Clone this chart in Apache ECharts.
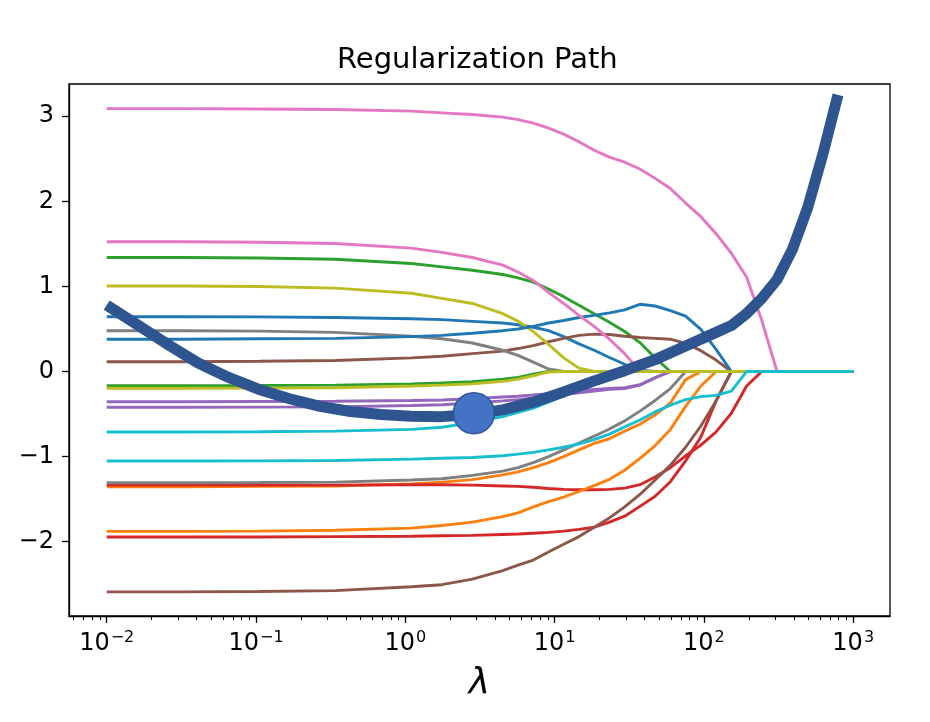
<!DOCTYPE html>
<html lang="en">

<head>
    <meta charset="UTF-8">
    <title>Regularization Path</title>
    <style>
        * {
            margin: 0;
            padding: 0;
            box-sizing: border-box;
        }

        html,
        body {
            background: #fff;
        }

        #box {
            width: 930px;
            height: 722px;
        }
    </style>
    <script src="https://cdn.jsdelivr.net/npm/echarts@6.0.0/dist/echarts.min.js"></script>
</head>

<body>
    <div id="box"></div>

    <script>
        // lambda grid shared by all coefficient paths
        var lambdas = [0.01, 0.03237, 0.1048, 0.3393, 1.099, 1.758, 2.812, 4.498, 5.690, 7.197, 9.103,
            11.51, 14.56, 18.42, 23.30, 29.47, 37.28, 47.15, 59.64, 75.44, 95.41,
            120.7, 152.7, 193.1, 244.2, 308.9, 390.7, 494.2, 625.1, 790.6, 1000];

        // coefficient paths, two features per colour
        var blueA = [0.644, 0.644, 0.642, 0.635, 0.62, 0.61, 0.59, 0.57, 0.55, 0.52, 0.48, 0.41, 0.325, 0.25, 0.165, 0.085, 0.015, 0, 0, 0, 0, 0, 0, 0, 0, 0, 0, 0, 0, 0, 0];
        var orangeA = [-1.355, -1.355, -1.35, -1.345, -1.32, -1.30, -1.27, -1.215, -1.18, -1.13, -1.07, -1.0, -0.92, -0.845, -0.79, -0.70, -0.62, -0.51, -0.37, -0.095, 0, 0, 0, 0, 0, 0, 0, 0, 0, 0, 0];
        var greenA = [1.34, 1.34, 1.335, 1.32, 1.27, 1.23, 1.19, 1.14, 1.10, 1.05, 0.97, 0.88, 0.78, 0.68, 0.58, 0.47, 0.34, 0.16, 0, 0, 0, 0, 0, 0, 0, 0, 0, 0, 0, 0, 0];
        var redA = [-1.335, -1.335, -1.335, -1.335, -1.33, -1.33, -1.335, -1.345, -1.35, -1.36, -1.375, -1.385, -1.39, -1.39, -1.385, -1.37, -1.33, -1.24, -1.13, -0.99, -0.865, -0.71, -0.49, -0.17, 0, 0, 0, 0, 0, 0, 0];
        var purpleA = [-0.355, -0.355, -0.352, -0.35, -0.34, -0.335, -0.32, -0.30, -0.29, -0.275, -0.26, -0.245, -0.225, -0.21, -0.2, -0.19, -0.155, -0.07, 0, 0, 0, 0, 0, 0, 0, 0, 0, 0, 0, 0, 0];
        var brownA = [0.115, 0.115, 0.12, 0.13, 0.16, 0.18, 0.21, 0.24, 0.27, 0.305, 0.35, 0.39, 0.425, 0.44, 0.435, 0.415, 0.40, 0.39, 0.38, 0.33, 0.245, 0.135, 0, 0, 0, 0, 0, 0, 0, 0, 0];
        var pinkA = [3.09, 3.09, 3.085, 3.08, 3.06, 3.04, 3.02, 2.99, 2.96, 2.92, 2.86, 2.79, 2.70, 2.60, 2.52, 2.46, 2.38, 2.27, 2.15, 1.98, 1.82, 1.62, 1.39, 1.11, 0.6, 0, 0, 0, 0, 0, 0];
        var grayA = [0.48, 0.48, 0.475, 0.46, 0.415, 0.385, 0.335, 0.25, 0.19, 0.11, 0.03, 0, 0, 0, 0, 0, 0, 0, 0, 0, 0, 0, 0, 0, 0, 0, 0, 0, 0, 0, 0];
        var oliveA = [1.005, 1.005, 1.0, 0.98, 0.92, 0.86, 0.80, 0.68, 0.59, 0.47, 0.32, 0.16, 0.04, 0, 0, 0, 0, 0, 0, 0, 0, 0, 0, 0, 0, 0, 0, 0, 0, 0, 0];
        var cyanA = [-0.71, -0.71, -0.708, -0.70, -0.68, -0.655, -0.60, -0.53, -0.48, -0.43, -0.36, -0.28, -0.19, -0.08, 0, 0, 0, 0, 0, 0, 0, 0, 0, 0, 0, 0, 0, 0, 0, 0, 0];
        var blueB = [0.38, 0.38, 0.385, 0.39, 0.41, 0.425, 0.45, 0.48, 0.50, 0.53, 0.57, 0.60, 0.635, 0.66, 0.69, 0.725, 0.79, 0.77, 0.715, 0.65, 0.495, 0.26, 0, 0, 0, 0, 0, 0, 0, 0, 0];
        var orangeB = [-1.878, -1.878, -1.875, -1.865, -1.84, -1.81, -1.77, -1.705, -1.66, -1.59, -1.53, -1.475, -1.41, -1.34, -1.267, -1.16, -1.02, -0.87, -0.68, -0.41, -0.17, 0, 0, 0, 0, 0, 0, 0, 0, 0, 0];
        var greenB = [-0.167, -0.167, -0.165, -0.16, -0.145, -0.135, -0.12, -0.09, -0.07, -0.03, 0, 0, 0, 0, 0, 0, 0, 0, 0, 0, 0, 0, 0, 0, 0, 0, 0, 0, 0, 0, 0];
        var redB = [-1.945, -1.945, -1.945, -1.94, -1.935, -1.93, -1.925, -1.915, -1.91, -1.9, -1.89, -1.875, -1.855, -1.83, -1.77, -1.70, -1.585, -1.465, -1.295, -1.05, -0.77, -0.345, 0, 0, 0, 0, 0, 0, 0, 0, 0];
        var purpleB = [-0.42, -0.42, -0.418, -0.415, -0.40, -0.39, -0.37, -0.345, -0.33, -0.31, -0.29, -0.27, -0.25, -0.23, -0.21, -0.2, -0.16, -0.075, 0, 0, 0, 0, 0, 0, 0, 0, 0, 0, 0, 0, 0];
        var brownB = [-2.59, -2.59, -2.585, -2.575, -2.53, -2.505, -2.44, -2.34, -2.275, -2.215, -2.12, -2.03, -1.94, -1.83, -1.72, -1.59, -1.445, -1.275, -1.10, -0.89, -0.64, -0.345, 0, 0, 0, 0, 0, 0, 0, 0, 0];
        var pinkB = [1.525, 1.525, 1.52, 1.505, 1.45, 1.40, 1.34, 1.25, 1.17, 1.07, 0.93, 0.80, 0.66, 0.53, 0.38, 0.21, 0, 0, 0, 0, 0, 0, 0, 0, 0, 0, 0, 0, 0, 0, 0];
        var grayB = [-1.307, -1.307, -1.305, -1.30, -1.275, -1.26, -1.22, -1.17, -1.13, -1.07, -1.0, -0.92, -0.84, -0.76, -0.675, -0.58, -0.465, -0.34, -0.2, 0, 0, 0, 0, 0, 0, 0, 0, 0, 0, 0, 0];
        var oliveB = [-0.197, -0.197, -0.195, -0.19, -0.17, -0.16, -0.145, -0.115, -0.09, -0.05, -0.005, 0, 0, 0, 0, 0, 0, 0, 0, 0, 0, 0, 0, 0, 0, 0, 0, 0, 0, 0, 0];
        var cyanB = [-1.052, -1.052, -1.05, -1.045, -1.03, -1.02, -1.01, -0.99, -0.97, -0.95, -0.92, -0.89, -0.85, -0.80, -0.735, -0.65, -0.57, -0.475, -0.395, -0.33, -0.295, -0.28, -0.23, 0, 0, 0, 0, 0, 0, 0, 0];

        // thick curve and its marked point
        var cvLambda = [0.01, 0.016, 0.0256, 0.04095, 0.06551, 0.1048, 0.1677, 0.2683, 0.4292, 0.6866,
            1.099, 1.758, 2.812, 4.498, 7.197, 11.51, 18.42, 29.47, 47.15, 75.44,
            120.7, 152.7, 193.1, 244.2, 308.9, 390.7, 494.2, 625.1, 790.6];
        var cvScore = [0.78, 0.55, 0.32, 0.10, -0.07, -0.21, -0.32, -0.41, -0.47, -0.505,
            -0.525, -0.53, -0.505, -0.45, -0.36, -0.24, -0.11, 0.01, 0.14, 0.30,
            0.46, 0.54, 0.68, 0.86, 1.08, 1.43, 1.92, 2.55, 3.25];
        var bestLambda = [2.88];
        var bestScore = [-0.49];

        var xTicks = [0.01, 0.1, 1, 10, 100, 1000];
        var yTicks = [-2, -1, 0, 1, 2, 3];

        var paths = [blueA, orangeA, greenA, redA, purpleA, brownA, pinkA, grayA, oliveA, cyanA,
            blueB, orangeB, greenB, redB, purpleB, brownB, pinkB, grayB, oliveB, cyanB];
        var colors = ['#1f77b4', '#ff7f0e', '#2ca02c', '#d62728', '#9467bd',
            '#8c564b', '#e377c2', '#7f7f7f', '#bcbd22', '#17becf'];

        var xMin = 0.005591, xMax = 1764;

        // minor ticks 2..9 x 10^n
        var minorTicks = [];
        for (var n = -3; n <= 3; n++) {
            for (var f = 2; f <= 9; f++) {
                var v = f * Math.pow(10, n);
                if (v > xMin && v < xMax) minorTicks.push(v);
            }
        }

        var series = paths.map(function (arr, i) {
            return {
                type: 'line',
                xAxisIndex: 0,
                symbol: 'none',
                silent: true,
                z: 2,
                lineStyle: { color: colors[i % 10], width: 2.9 },
                data: lambdas.map(function (l, j) { return [l, arr[j]]; })
            };
        });

        series.push({
            type: 'line',
            xAxisIndex: 0,
            symbol: 'none',
            silent: true,
            z: 3,
            lineStyle: { color: '#2f5590', width: 11, join: 'round' },
            data: cvLambda.map(function (l, j) { return [l, cvScore[j]]; })
        });

        series.push({
            type: 'scatter',
            xAxisIndex: 0,
            symbol: 'circle',
            symbolSize: 41,
            silent: true,
            z: 4,
            itemStyle: { color: '#4472c4', borderColor: '#2f5597', borderWidth: 1.5, opacity: 1 },
            data: bestLambda.map(function (l, j) { return [l, bestScore[j]]; })
        });

        var myChart = echarts.init(document.getElementById('box'), null, { renderer: 'canvas' });

        myChart.setOption({
            animation: false,
            backgroundColor: '#fff',
            textStyle: { fontFamily: 'DejaVu Sans' },
            title: {
                text: 'Regularization Path',
                left: 337,
                top: 46,
                padding: 0,
                textStyle: { fontFamily: 'DejaVu Sans', fontSize: 29, fontWeight: 'normal', color: '#000' }
            },
            grid: {
                left: 69,
                right: 40,
                top: 84,
                bottom: 106,
                show: true,
                borderColor: '#000',
                borderWidth: 1.3,
                backgroundColor: '#fff'
            },
            xAxis: [{
                type: 'log',
                logBase: 10,
                min: xMin,
                max: xMax,
                position: 'bottom',
                name: 'λ',
                nameLocation: 'middle',
                nameGap: 50,
                nameTextStyle: { fontFamily: 'DejaVu Sans', fontStyle: 'italic', fontSize: 36, color: '#000' },
                axisLine: { show: true, onZero: false, lineStyle: { color: '#000', width: 1.3 } },
                axisTick: { show: true, length: 7, customValues: xTicks, lineStyle: { color: '#000', width: 1.3 } },
                splitLine: { show: false },
                axisLabel: {
                    customValues: xTicks,
                    margin: 14,
                    formatter: function (v) {
                        var e = Math.round(Math.log10(v));
                        return '{b|10}{s|' + (e < 0 ? '\u2212' + (-e) : e) + '}';
                    },
                    rich: {
                        b: { fontFamily: 'DejaVu Sans', fontSize: 24, color: '#000' },
                        s: { fontFamily: 'DejaVu Sans', fontSize: 16, color: '#000', padding: [0, 0, 11, 1] }
                    }
                }
            }, {
                type: 'log',
                logBase: 10,
                min: xMin,
                max: xMax,
                position: 'bottom',
                axisLine: { show: false, onZero: false },
                axisTick: { show: true, length: 4, customValues: minorTicks, lineStyle: { color: '#000', width: 1 } },
                axisLabel: { show: false },
                splitLine: { show: false }
            }],
            yAxis: {
                type: 'value',
                min: -2.873,
                max: 3.379,
                axisLine: { show: true, onZero: false, lineStyle: { color: '#000', width: 1.3 } },
                axisTick: { show: true, length: 7, customValues: yTicks, lineStyle: { color: '#000', width: 1.3 } },
                splitLine: { show: false },
                axisLabel: {
                    customValues: yTicks,
                    margin: 15,
                    fontFamily: 'DejaVu Sans',
                    fontSize: 24,
                    color: '#000',
                    formatter: function (v) {
                        return v < 0 ? '\u2212' + (-v) : String(v);
                    }
                }
            },
            series: series
        });

        window.onresize = function () {
            myChart.resize();
        };
    </script>
</body>

</html>
